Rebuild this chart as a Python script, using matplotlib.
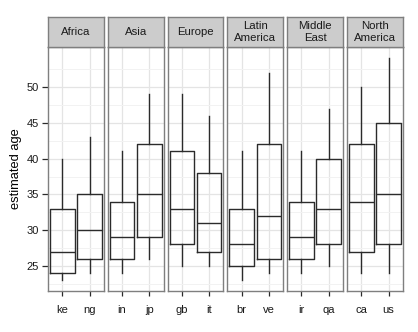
import matplotlib
matplotlib.use('Agg')
import matplotlib.pyplot as plt

plt.rcParams['font.family'] = ['Liberation Sans', 'DejaVu Sans']

# data (five-number summaries per country)
regions = ['Africa', 'Asia', 'Europe', 'Latin\nAmerica', 'Middle\nEast', 'North\nAmerica']
countries = [['ke', 'ng'], ['in', 'jp'], ['gb', 'it'], ['br', 've'], ['ir', 'qa'], ['ca', 'us']]
whis_lo = [[23, 24], [24, 26], [25, 25], [23, 24], [24, 25], [24, 24]]
q1 = [[24, 26], [26, 29], [28, 27], [25, 26], [26, 28], [27, 28]]
median = [[27, 30], [29, 35], [33, 31], [28, 32], [29, 33], [34, 35]]
q3 = [[33, 35], [34, 42], [41, 38], [33, 42], [34, 40], [42, 45]]
whis_hi = [[40, 43], [41, 49], [49, 46], [41, 52], [41, 47], [50, 54]]

W, H = 418, 332
fig = plt.figure(figsize=(W / 100, H / 100), dpi=100)

left0 = 48
pw = 55.8
gap = 4
ptop = 47
pbot = 291
stop = 17

line_col = '#2b2b2b'
border = '#7f7f7f'

for i, reg in enumerate(regions):
    x0 = left0 + i * (pw + gap)
    ax = fig.add_axes([x0 / W, 1 - pbot / H, pw / W, (pbot - ptop) / H])
    stats = []
    for j, c in enumerate(countries[i]):
        stats.append(dict(label=c, whislo=whis_lo[i][j], q1=q1[i][j], med=median[i][j],
                          q3=q3[i][j], whishi=whis_hi[i][j], fliers=[]))
    ax.bxp(stats, positions=[1, 2], widths=0.9, showcaps=False,
           boxprops=dict(color=line_col, linewidth=1.0),
           whiskerprops=dict(color=line_col, linewidth=1.0),
           medianprops=dict(color=line_col, linewidth=1.0))
    ax.set_xlim(0.48, 2.52)
    ax.set_ylim(21.5, 55.6)
    ax.set_yticks([25, 30, 35, 40, 45, 50])
    ax.set_yticks([22.5, 27.5, 32.5, 37.5, 42.5, 47.5, 52.5], minor=True)
    ax.set_xticks([1, 2])
    ax.set_xticklabels(countries[i])
    ax.grid(which='major', color='#e4e4e4', linewidth=0.9)
    ax.grid(which='minor', axis='y', color='#f2f2f2', linewidth=0.7)
    ax.set_axisbelow(True)
    for s in ax.spines.values():
        s.set_color(border)
        s.set_linewidth(1.0)
    ax.tick_params(axis='x', length=3.6, width=0.9, color=line_col, labelsize=8, pad=6.5, labelcolor='#1a1a1a')
    ax.tick_params(axis='y', which='major', length=4.3, width=0.9, color=line_col, labelsize=8, pad=2.5, labelcolor='#1a1a1a')
    ax.tick_params(axis='y', which='minor', length=0)
    if i > 0:
        ax.tick_params(axis='y', which='major', left=False, labelleft=False)
    else:
        ax.set_ylabel('estimated age', fontsize=9.3, labelpad=3)

    # strip
    sx = fig.add_axes([x0 / W, 1 - ptop / H, pw / W, (ptop - stop) / H])
    sx.set_facecolor('#cccccc')
    sx.set_xticks([])
    sx.set_yticks([])
    for s in sx.spines.values():
        s.set_color(border)
        s.set_linewidth(1.0)
    sx.text(0.5, 0.5, reg, ha='center', va='center', fontsize=8.2, linespacing=1.15,
            transform=sx.transAxes, color='#1a1a1a')

fig.savefig('out.png', dpi=100)
